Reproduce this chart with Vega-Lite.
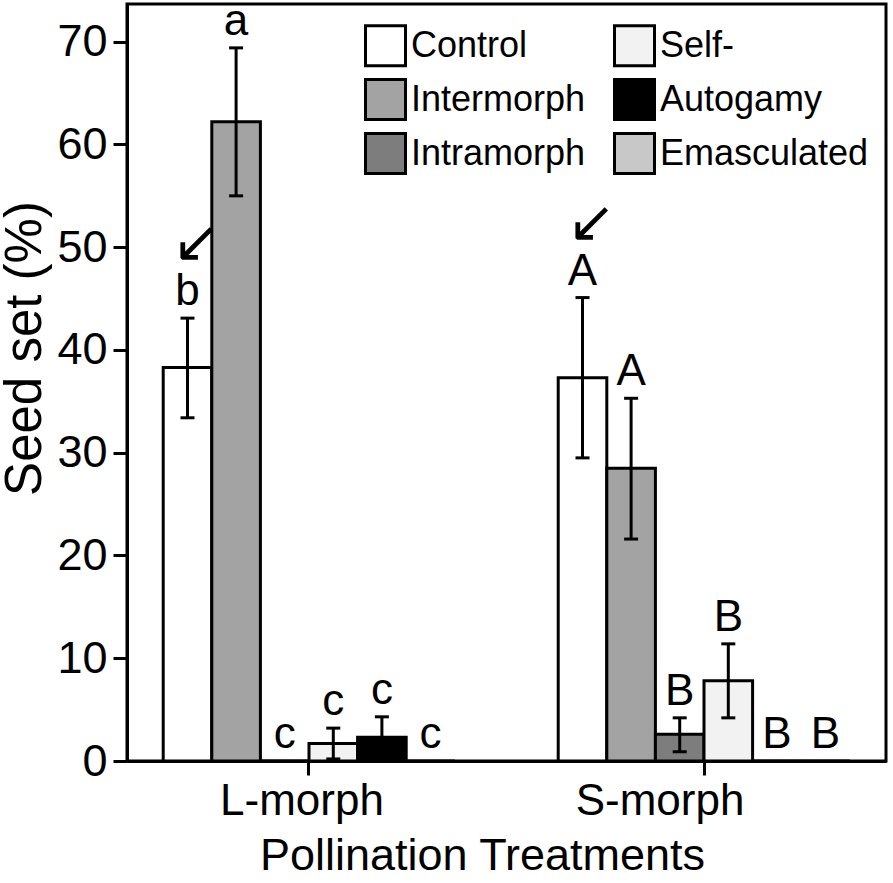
{
  "$schema": "https://vega.github.io/schema/vega-lite/v6.json",
  "width": 759,
  "height": 757,
  "autosize": "none",
  "padding": {"left": 127, "top": 4, "right": 7, "bottom": 122},
  "background": "white",
  "config": {
    "font": "Liberation Sans",
    "view": {"stroke": "black", "strokeWidth": 3}
  },
  "data": {
    "values": [
      {"morph": "L-morph", "treatment": "Control", "mean": 38.3, "lo": 33.4, "hi": 43.1, "letter": "b", "arrow": "↙"},
      {"morph": "L-morph", "treatment": "Intermorph", "mean": 62.2, "lo": 55.0, "hi": 69.4, "letter": "a", "arrow": ""},
      {"morph": "L-morph", "treatment": "Intramorph", "mean": 0, "lo": 0, "hi": 0, "letter": "c", "arrow": ""},
      {"morph": "L-morph", "treatment": "Self-", "mean": 1.7, "lo": 0.2, "hi": 3.2, "letter": "c", "arrow": ""},
      {"morph": "L-morph", "treatment": "Autogamy", "mean": 2.3, "lo": 0.3, "hi": 4.3, "letter": "c", "arrow": ""},
      {"morph": "L-morph", "treatment": "Emasculated", "mean": 0, "lo": 0, "hi": 0, "letter": "c", "arrow": ""},
      {"morph": "S-morph", "treatment": "Control", "mean": 37.3, "lo": 29.5, "hi": 45.1, "letter": "A", "arrow": "↙"},
      {"morph": "S-morph", "treatment": "Intermorph", "mean": 28.5, "lo": 21.6, "hi": 35.3, "letter": "A", "arrow": ""},
      {"morph": "S-morph", "treatment": "Intramorph", "mean": 2.6, "lo": 0.9, "hi": 4.2, "letter": "B", "arrow": ""},
      {"morph": "S-morph", "treatment": "Self-", "mean": 7.8, "lo": 4.2, "hi": 11.4, "letter": "B", "arrow": ""},
      {"morph": "S-morph", "treatment": "Autogamy", "mean": 0, "lo": 0, "hi": 0, "letter": "B", "arrow": ""},
      {"morph": "S-morph", "treatment": "Emasculated", "mean": 0, "lo": 0, "hi": 0, "letter": "B", "arrow": ""}
    ]
  },
  "encoding": {
    "x": {
      "field": "morph",
      "type": "nominal",
      "scale": {"paddingInner": 0.0785, "paddingOuter": 0},
      "axis": {
        "title": "Pollination Treatments",
        "labelAngle": 0,
        "tickSize": 14,
        "tickWidth": 3,
        "tickColor": "black",
        "domainColor": "black",
        "domainWidth": 3,
        "labelFontSize": 44,
        "labelColor": "black",
        "labelPadding": 4,
        "labelOffset": {"condition": {"test": "datum.value == 'S-morph'", "value": -44}, "value": -7},
        "titleFontSize": 45,
        "titleFontWeight": "normal",
        "titleColor": "black",
        "titlePadding": 10,
        "titleX": 355
      }
    },
    "xOffset": {
      "field": "treatment",
      "type": "nominal",
      "sort": ["Control", "Intermorph", "Intramorph", "Self-", "Autogamy", "Emasculated"],
      "scale": {"paddingInner": 0, "paddingOuter": 0.745}
    }
  },
  "layer": [
    {
      "mark": {"type": "bar", "stroke": "black", "strokeWidth": 3},
      "encoding": {
        "y": {
          "field": "mean",
          "type": "quantitative",
          "scale": {"domain": [0, 73.67], "nice": false},
          "axis": {
            "title": "Seed set (%)",
            "values": [0, 10, 20, 30, 40, 50, 60, 70],
            "grid": false,
            "tickSize": 14,
            "tickWidth": 3,
            "tickColor": "black",
            "domainColor": "black",
            "domainWidth": 3,
            "labelFontSize": 45,
            "labelColor": "black",
            "labelPadding": 6,
            "titleFontSize": 51,
            "titleFontWeight": "normal",
            "titleColor": "black",
            "titlePadding": 5,
            "titleY": 344
          }
        },
        "fill": {
          "field": "treatment",
          "type": "nominal",
          "scale": {
            "domain": ["Control", "Intermorph", "Intramorph", "Self-", "Autogamy", "Emasculated"],
            "range": ["#ffffff", "#a3a3a3", "#7d7d7d", "#f2f2f2", "#000000", "#c8c8c8"]
          },
          "legend": {
            "orient": "none",
            "legendX": 237,
            "legendY": 20,
            "columns": 2,
            "title": null,
            "symbolType": "square",
            "symbolSize": 1600,
            "symbolStrokeWidth": 3,
            "symbolStrokeColor": "black",
            "symbolOpacity": 1,
            "labelFontSize": 36,
            "labelColor": "black",
            "labelOffset": 4,
            "labelLimit": 400,
            "rowPadding": 1,
            "columnPadding": 22
          }
        }
      }
    },
    {
      "transform": [{"filter": "datum.hi > 0"}],
      "mark": {"type": "rule", "color": "black", "strokeWidth": 3},
      "encoding": {
        "y": {"field": "lo", "type": "quantitative"},
        "y2": {"field": "hi"}
      }
    },
    {
      "transform": [{"filter": "datum.hi > 0"}],
      "mark": {"type": "tick", "orient": "horizontal", "size": 14, "thickness": 3, "color": "black", "opacity": 1},
      "encoding": {
        "y": {"field": "hi", "type": "quantitative"}
      }
    },
    {
      "transform": [{"filter": "datum.hi > 0"}],
      "mark": {"type": "tick", "orient": "horizontal", "size": 14, "thickness": 3, "color": "black", "opacity": 1},
      "encoding": {
        "y": {"field": "lo", "type": "quantitative"}
      }
    },
    {
      "mark": {"type": "text", "baseline": "alphabetic", "align": "center", "dy": -13, "fontSize": 44, "color": "black"},
      "encoding": {
        "y": {"field": "hi", "type": "quantitative"},
        "text": {"field": "letter"}
      }
    },
    {
      "transform": [{"filter": "datum.arrow != ''"}],
      "mark": {"type": "text", "baseline": "alphabetic", "align": "center", "dy": -57, "dx": 9, "fontSize": 58, "font": "DejaVu Sans", "color": "black"},
      "encoding": {
        "y": {"field": "hi", "type": "quantitative"},
        "text": {"field": "arrow"}
      }
    }
  ]
}
